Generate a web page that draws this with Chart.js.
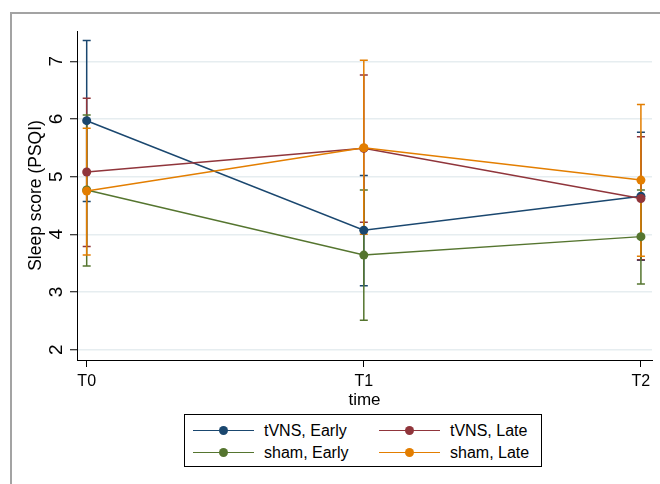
<!DOCTYPE html>
<html>
<head>
<meta charset="utf-8">
<script src="https://cdn.jsdelivr.net/npm/chart.js@4.4.0/dist/chart.umd.min.js"></script>
<style>
  html, body { margin:0; padding:0; background:#fff; }
  #wrap { position:relative; width:660px; height:484px; overflow:hidden; font-family:"Liberation Sans", Arial, sans-serif; }
  #c { position:absolute; left:0; top:0; }
  #frame { position:absolute; left:10px; top:12px; width:700px; height:600px; border-left:2px solid #a3a3a3; border-top:2px solid #a3a3a3; }
  #legend { position:absolute; left:184px; top:414px; width:358px; height:53px; border:1px solid #000; box-sizing:border-box; background:#fff; }
  .item { position:absolute; height:20px; }
  .ln { position:absolute; left:0; top:9px; width:61px; height:0; border-top:1.5px solid; }
  .dot { position:absolute; left:26px; top:5px; width:9px; height:9px; border-radius:50%; }
  .txt { position:absolute; left:71px; top:0px; font-size:16px; line-height:20px; white-space:nowrap; color:#000; }
</style>
</head>
<body>
<div id="wrap">
  <canvas id="c" width="660" height="484"></canvas>
  <div id="frame"></div>
  <div id="legend"></div>
</div>
<script>
// ---- data ----
const categories = ['T0', 'T1', 'T2'];
const yTicks = [2, 3, 4, 5, 6, 7];

const seriesNames = ['tVNS, Early', 'tVNS, Late', 'sham, Early', 'sham, Late'];

const tvnsEarlyMean = [5.97, 4.07, 4.66];
const tvnsEarlyLo   = [4.57, 3.11, 3.55];
const tvnsEarlyHi   = [7.36, 5.02, 5.77];

const tvnsLateMean  = [5.08, 5.49, 4.62];
const tvnsLateLo    = [3.79, 4.21, 3.56];
const tvnsLateHi    = [6.36, 6.76, 5.69];

const shamEarlyMean = [4.77, 3.64, 3.96];
const shamEarlyLo   = [3.45, 2.51, 3.14];
const shamEarlyHi   = [6.07, 4.77, 4.77];

const shamLateMean  = [4.75, 5.50, 4.94];
const shamLateLo    = [3.64, 4.00, 3.62];
const shamLateHi    = [5.84, 7.02, 6.25];

const colors = ['#1a476f', '#90353b', '#55752f', '#e37e00'];

const series = [
  { name: seriesNames[0], mean: tvnsEarlyMean, lo: tvnsEarlyLo, hi: tvnsEarlyHi, color: colors[0] },
  { name: seriesNames[1], mean: tvnsLateMean,  lo: tvnsLateLo,  hi: tvnsLateHi,  color: colors[1] },
  { name: seriesNames[2], mean: shamEarlyMean, lo: shamEarlyLo, hi: shamEarlyHi, color: colors[2] },
  { name: seriesNames[3], mean: shamLateMean,  lo: shamLateLo,  hi: shamLateHi,  color: colors[3] }
];

const FONT = '"Liberation Sans", Arial, sans-serif';

// ---- error bars plugin ----
const errorBars = {
  id: 'errorBars',
  beforeDatasetsDraw(chart) {
    const { ctx, scales: { x, y } } = chart;
    series.forEach((s) => {
      ctx.save();
      ctx.strokeStyle = s.color;
      ctx.lineWidth = 1.5;
      s.lo.forEach((lo, j) => {
        const px = x.getPixelForValue(j);
        const pLo = y.getPixelForValue(lo);
        const pHi = y.getPixelForValue(s.hi[j]);
        ctx.beginPath();
        ctx.moveTo(px, pLo); ctx.lineTo(px, pHi);
        ctx.moveTo(px - 4, pLo); ctx.lineTo(px + 4, pLo);
        ctx.moveTo(px - 4, pHi); ctx.lineTo(px + 4, pHi);
        ctx.stroke();
      });
      ctx.restore();
    });
  }
};

const datasets = series.map((s, i) => ({
  label: s.name,
  data: s.mean.map((v, j) => ({ x: j, y: v })),
  borderColor: s.color,
  backgroundColor: s.color,
  pointBackgroundColor: s.color,
  pointBorderColor: s.color,
  borderWidth: 1.5,
  pointRadius: 4.5,
  pointBorderWidth: 0,
  tension: 0,
  fill: false,
  order: series.length - 1 - i
}));

new Chart(document.getElementById('c'), {
  type: 'line',
  data: { datasets },
  plugins: [errorBars],
  options: {
    responsive: false,
    animation: false,
    devicePixelRatio: 1,
    layout: { padding: { left: 0, right: 8, top: 31, bottom: 73 } },
    plugins: { legend: { display: false }, tooltip: { enabled: false } },
    scales: {
      x: {
        type: 'linear',
        min: -0.035,
        max: 2.04,
        afterBuildTicks: (s) => { s.ticks = categories.map((c, i) => ({ value: i })); },
        afterFit: (s) => { s.height = 51; },
        ticks: {
          callback: (v) => categories[v],
          color: '#000',
          font: { size: 16, family: FONT },
          padding: 5,
          maxRotation: 0,
          autoSkip: false
        },
        grid: { drawOnChartArea: false, drawTicks: true, tickLength: 7, tickColor: '#000', lineWidth: 1 },
        border: { display: true, color: '#000', width: 1 },
        title: { display: true, text: 'time', color: '#000', font: { size: 17, family: FONT }, padding: { top: 0, bottom: 0 } }
      },
      y: {
        type: 'linear',
        min: 1.821,
        max: 7.525,
        afterBuildTicks: (s) => { s.ticks = yTicks.map((v) => ({ value: v })); },
        afterFit: (s) => { s.width = 77; },
        ticks: {
          minRotation: 90,
          maxRotation: 90,
          crossAlign: 'center',
          padding: 8,
          color: '#000',
          font: { size: 19, family: FONT }
        },
        grid: { color: '#e6edf0', lineWidth: 1.5, drawTicks: true, tickLength: 7, tickColor: '#000', tickWidth: 1 },
        border: { display: true, color: '#000', width: 1 },
        title: { display: true, text: 'Sleep score (PSQI)', color: '#000', font: { size: 17.5, family: FONT }, padding: { top: 26, bottom: 0 } }
      }
    }
  }
});

// ---- legend (HTML) ----
const legend = document.getElementById('legend');
const legendPos = [
  { left: 8,   top: 6 },
  { left: 194, top: 6 },
  { left: 8,   top: 28 },
  { left: 194, top: 28 }
];
series.forEach((s, i) => {
  const it = document.createElement('div');
  it.className = 'item';
  it.style.left = legendPos[i].left + 'px';
  it.style.top = legendPos[i].top + 'px';
  it.innerHTML = '<div class="ln" style="border-color:' + s.color + '"></div>' +
                 '<div class="dot" style="background:' + s.color + '"></div>' +
                 '<div class="txt"></div>';
  it.querySelector('.txt').textContent = s.name;
  legend.appendChild(it);
});
</script>
</body>
</html>
